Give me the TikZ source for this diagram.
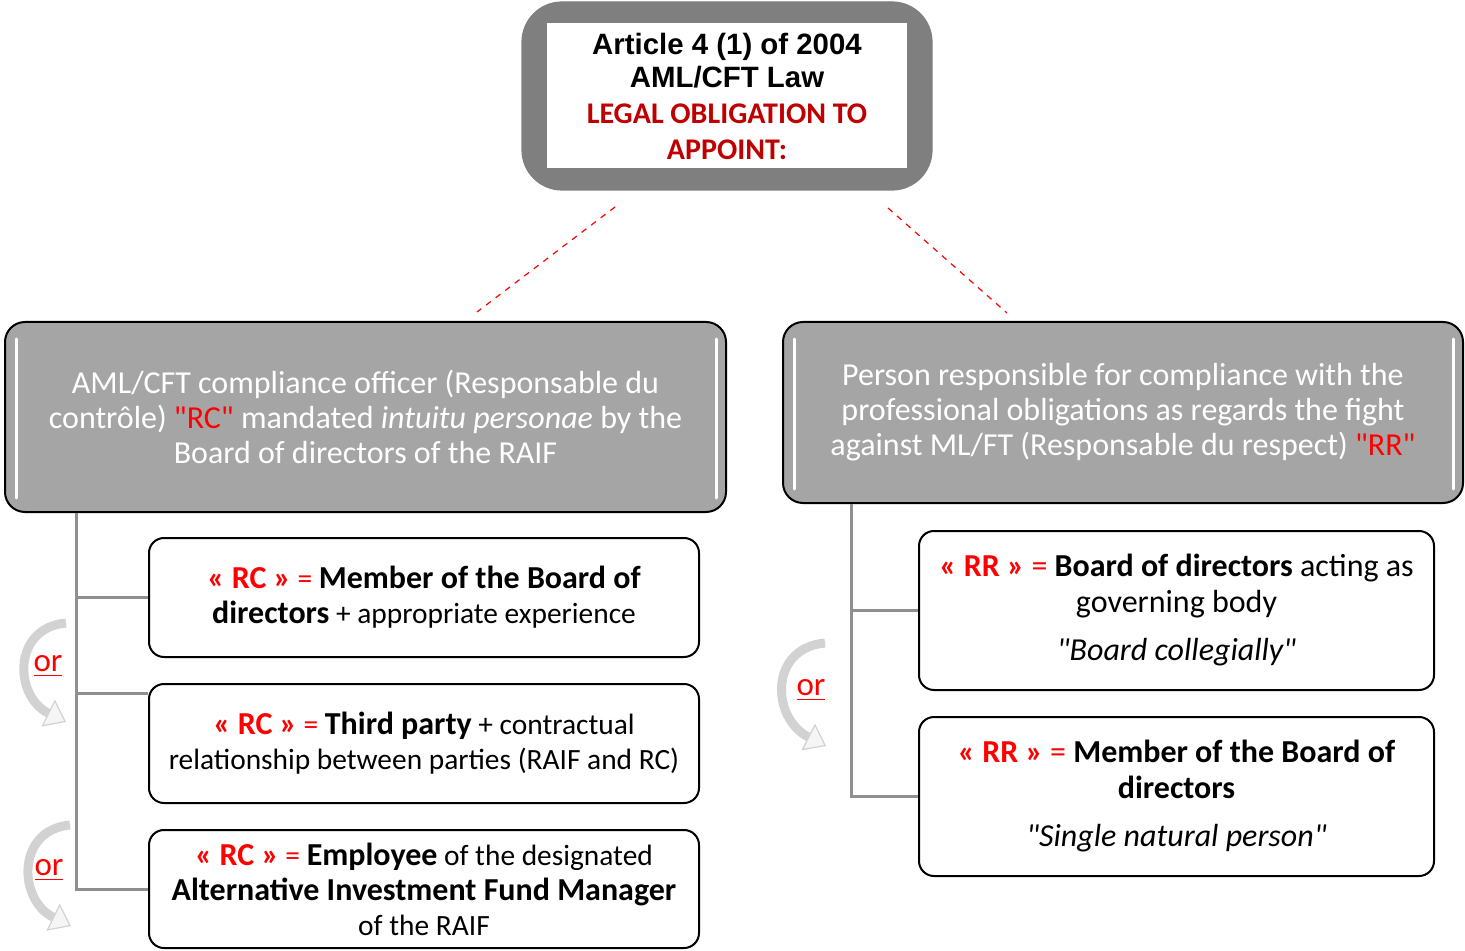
\documentclass[tikz,border=0pt]{standalone}
\usepackage{fontspec}
\setmainfont{Carlito}
\newfontfamily\arialfont{Liberation Sans}
\usetikzlibrary{arrows.meta, positioning, calc}
\definecolor{lawgray}{HTML}{7F7F7F}
\definecolor{headgray}{HTML}{A5A5A5}
\definecolor{darkred}{HTML}{C00000}
\definecolor{treegray}{HTML}{8F8F8F}
\definecolor{rcred}{HTML}{FF0000}
\newcommand{\bbf}[1]{{\fontsize{16}{17.5}\selectfont\bfseries #1}}
\newcommand{\rcmark}{\textcolor{rcred}{\bbf{« RC »} =}}
\newcommand{\rrmark}{\textcolor{rcred}{\textbf{« RR »} =}}
\newcommand{\qq}{\textquotedbl}

\begin{document}
\begin{tikzpicture}[x=0.5pt, y=-0.5pt,
    lawframe/.style={fill=lawgray, draw=gray, line width=0.6pt, rounded corners=20pt,
      minimum width=205pt, minimum height=94pt, inner sep=0pt},
    lawinner/.style={fill=white, minimum width=180pt, minimum height=72.5pt, inner sep=0pt, align=center},
    headbox/.style={draw=black, line width=1pt, fill=headgray, rounded corners=10pt, text=white,
      align=center, inner sep=0pt, font=\fontsize{16}{17.5}\selectfont},
    optbox/.style={draw=black, line width=1pt, fill=white, rounded corners=7.5pt,
      align=center, inner sep=0pt, font=\fontsize{14.7}{17.5}\selectfont},
    rrbox/.style={optbox, font=\fontsize{16}{18}\selectfont},
    branch/.style={draw=treegray, line width=1.5pt},
    lawlink/.style={draw=red, dashed, line width=0.6pt},
    glint/.style={draw=white, line width=1.5pt, line cap=round},
    orlabel/.style={text=rcred, inner sep=0pt, font=\fontsize{16.5}{18}\selectfont},
    orarrow/.style={draw=gray!35, line width=4.5pt,
      -{Triangle[length=10pt, width=15pt, line width=0.6pt, fill=gray!8]}}
  ]
  \useasboundingbox (0,0) rectangle (1465,951);

  % top box
  \node[lawframe] (law) at (727,96) {};
  \node[lawinner, font=\arialfont\bfseries\fontsize{14.7}{16.5}\selectfont] (lawtext) at (727,96)
    {Article 4 (1) of 2004\\ AML/CFT Law\\[1.5pt]
     \normalfont\bfseries\fontsize{15}{18}\selectfont\color{darkred}LEGAL OBLIGATION TO\\[1.5pt]
     \normalfont\bfseries\fontsize{15}{18}\selectfont\color{darkred}APPOINT:};

  % the two officers
  \node[headbox, minimum width=360.5pt, minimum height=95pt] (rc) at (365.5,417)
    {AML/CFT compliance officer (Responsable du\\
     contrôle) \textcolor{rcred}{\qq RC\qq} mandated \textit{intuitu personae} by the\\
     Board of directors of the RAIF};
  \node[headbox, minimum width=340pt, minimum height=90.5pt] (rr) at (1123,412.5)
    {Person responsible for compliance with the\\
     professional obligations as regards the fight\\
     against ML/FT (Responsable du respect) \textcolor{rcred}{\qq RR\qq}};
  \draw[glint] ($(rc.north west)+(12,18)$) -- ($(rc.south west)+(12,-15)$);
  \draw[glint] ($(rc.north east)+(-11,18)$) -- ($(rc.south east)+(-11,-15)$);
  \draw[glint] ($(rr.north west)+(12,18)$) -- ($(rr.south west)+(12,-15)$);
  \draw[glint] ($(rr.north east)+(-11,18)$) -- ($(rr.south east)+(-11,-15)$);

  \coordinate (linkL) at (615,207);
  \coordinate (linkR) at (888,208);
  \coordinate (rcIn) at (477,312);
  \coordinate (rrIn) at (1007,313);
  \draw[lawlink] (linkL) -- (rcIn);
  \draw[lawlink] (linkR) -- (rrIn);

  % RC options
  \node[optbox, minimum width=275pt, minimum height=59.5pt] (rcA) at (424,597.5)
    {\rcmark{} \bbf{Member of the Board of}\\ \bbf{directors} + appropriate experience};
  \node[optbox, minimum width=275pt, minimum height=59.5pt] (rcB) at (424,743.5)
    {\rcmark{} \bbf{Third party} + contractual\\ relationship between parties (RAIF and RC)};
  \node[optbox, minimum width=275pt, minimum height=59pt] (rcC) at (424,889)
    {\rcmark{} \bbf{Employee} of the designated\\ \bbf{Alternative Investment Fund Manager}\\ of the RAIF};

  % RR options
  \node[rrbox, minimum width=257.5pt, minimum height=79.5pt] (rrA) at (1176.5,610.5)
    {\rrmark{} \textbf{Board of directors} acting as\\ governing body\\[6pt] \textit{\qq Board collegially\qq}};
  \node[rrbox, minimum width=257.5pt, minimum height=79.5pt] (rrB) at (1176.5,796.5)
    {\rrmark{} \textbf{Member of the Board of}\\ \textbf{directors}\\[6pt] \textit{\qq Single natural person\qq}};

  % trees
  \coordinate (rcRoot) at ($(rc.south west)+(72,0)$);
  \coordinate (rrRoot) at ($(rr.south west)+(69,0)$);
  \draw[branch] (rcRoot) |- (rcA.west);
  \draw[branch] (rcRoot) |- ($(rcB.north west)+(0,10)$);
  \draw[branch] (rcRoot) |- (rcC.west);
  \draw[branch] (rrRoot) |- (rrA.west);
  \draw[branch] (rrRoot) |- (rrB.west);

  % or arrows
  \node[orlabel] (or1) at (48,666) {\underline{or}};
  \node[orlabel] (or2) at (49,870) {\underline{or}};
  \node[orlabel] (or3) at (811,690) {\underline{or}};
  \draw[orarrow] ($(or1)+(18,-43)$) .. controls ($(or1)+(-36,-38)$) and ($(or1)+(-34,30)$) .. ($(or1)+(18,56)$);
  \draw[orarrow] ($(or2)+(21,-45)$) .. controls ($(or2)+(-33,-40)$) and ($(or2)+(-31,30)$) .. ($(or2)+(22,56)$);
  \draw[orarrow] ($(or3)+(14,-47)$) .. controls ($(or3)+(-42,-42)$) and ($(or3)+(-40,28)$) .. ($(or3)+(15,56)$);
\end{tikzpicture}
\end{document}
